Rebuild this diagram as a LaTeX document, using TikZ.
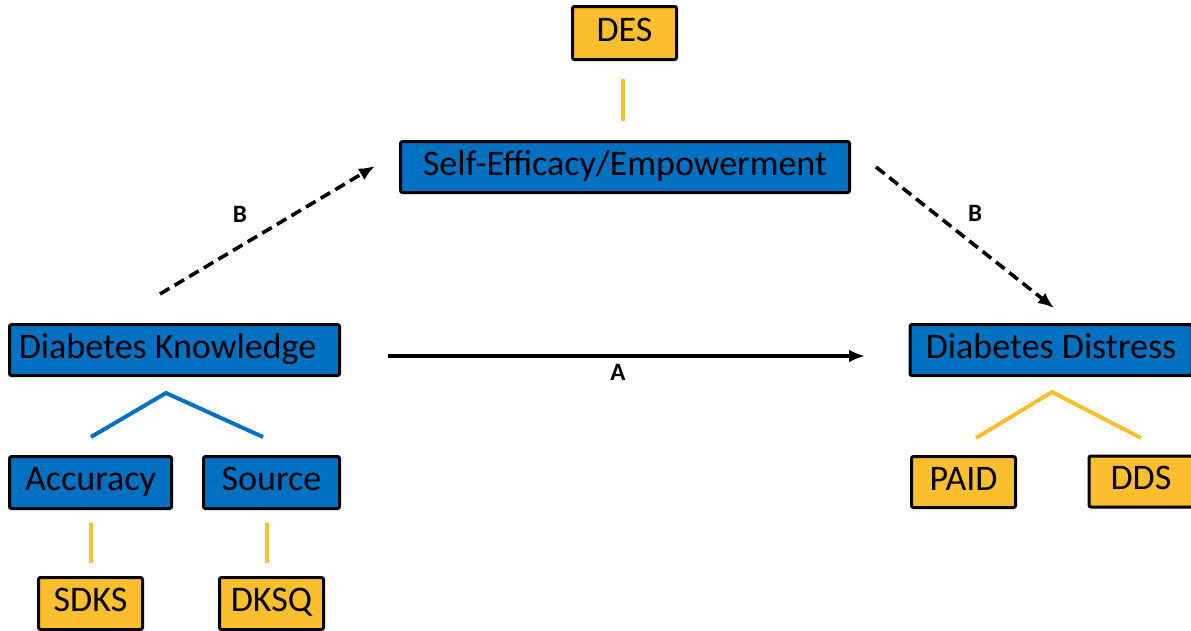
\documentclass[tikz,border=0pt]{standalone}
\usepackage{fontspec}
\setmainfont{Carlito}
\usetikzlibrary{arrows.meta}
\definecolor{boxblue}{HTML}{0070C0}
\definecolor{boxgold}{HTML}{FBBE2E}
\tikzset{
  box/.style={draw=black, line width=3pt, rounded corners=2pt, inner sep=0pt,
    minimum height=51pt, text=black, text height=24pt, text depth=8pt,
    font=\fontsize{36}{40}\selectfont},
  bluebox/.style={box, fill=boxblue},
  goldbox/.style={box, fill=boxgold},
  goldline/.style={draw=boxgold, line width=4pt},
  blueline/.style={draw=boxblue, line width=4pt},
  solidarrow/.style={draw=black, line width=3.2pt, -{Latex[length=16pt,width=13pt]}},
  dasharrow/.style={solidarrow, line width=3.6pt, dash pattern=on 11pt off 6pt},
  lbl/.style={font=\bfseries\fontsize{25}{28}\selectfont, inner sep=0pt}
}
\begin{document}
\begin{tikzpicture}[x=1pt, y=-1pt]
\useasboundingbox (0,0) rectangle (1191,630);
\clip (0,0) rectangle (1191,630);
% boxes
\node[goldbox, minimum width=104pt, minimum height=53pt] (des) at (624.5,33) {DES};
\node[bluebox, minimum width=449pt] (se) at (625,167) {Self-Efficacy/Empowerment};
\node[bluebox, minimum width=330pt] (dk) at (174.5,350) {Diabetes Knowledge\hspace*{14pt}};
\node[bluebox, minimum width=162pt, minimum height=52pt] (acc) at (90.5,482.5) {Accuracy};
\node[bluebox, minimum width=136pt, minimum height=52pt] (src) at (271.5,482.5) {Source};
\node[goldbox, minimum width=104pt, minimum height=52pt] (sdks) at (90.5,603.5) {SDKS};
\node[goldbox, minimum width=104pt, minimum height=52pt] (dksq) at (271.5,603.5) {DKSQ};
\node[bluebox, minimum width=282pt] (dd) at (1051,350) {Diabetes Distress};
\node[goldbox, minimum width=104pt] (paid) at (963.5,482) {PAID};
\node[goldbox, minimum width=104pt] (dds) at (1141,481.5) {DDS};
% connector end points
\coordinate (desA) at (623,79);
\coordinate (desB) at (623,121);
\coordinate (dkApex) at (166,393);
\coordinate (dkL) at (91,437);
\coordinate (dkR) at (263,437);
\coordinate (accA) at (91,523);
\coordinate (accB) at (91,563);
\coordinate (srcA) at (267,523);
\coordinate (srcB) at (267,563);
\coordinate (ddApex) at (1052,392);
\coordinate (ddL) at (976,438);
\coordinate (ddR) at (1141,438);
\coordinate (aStart) at (388,356);
\coordinate (aEnd) at (865,356);
\coordinate (b1Start) at (160,294);
\coordinate (b1End) at (375,166);
\coordinate (b2Start) at (876,167);
\coordinate (b2End) at (1054,308);
% lines
\draw[goldline] (desA) -- (desB);
\draw[blueline] (dkL) -- (dkApex) -- (dkR);
\draw[goldline] (accA) -- (accB);
\draw[goldline] (srcA) -- (srcB);
\draw[goldline] (ddL) -- (ddApex) -- (ddR);
% arrows
\draw[solidarrow] (aStart) -- (aEnd);
\draw[dasharrow] (b1Start) -- (b1End);
\draw[dasharrow] (b2Start) -- (b2End);
% labels
\node[lbl] (la) at (618,372) {A};
\node[lbl] (lb1) at (240,214) {B};
\node[lbl] (lb2) at (975,213) {B};
\end{tikzpicture}
\end{document}
